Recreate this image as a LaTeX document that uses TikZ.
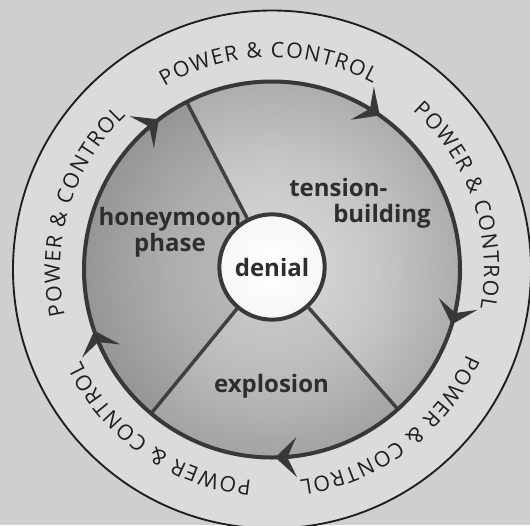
\documentclass[tikz,border=0pt]{standalone}
\usepackage{fontspec}
\setmainfont{Open Sans}
\usetikzlibrary{arrows.meta,decorations.text}

\newcommand{\phasefont}{\fontsize{18}{19.5}\selectfont\bfseries}
\newcommand{\ringfont}{\fontsize{16}{17}\selectfont}

\pgfdeclareradialshading{discshading}{\pgfpoint{0bp}{0bp}}{color(0bp)=(black!14); color(14bp)=(black!22); color(30bp)=(black!37); color(44bp)=(black!52); color(50bp)=(black!60); color(100bp)=(black!60)}
\pgfdeclareradialshading{hubshading}{\pgfpoint{0bp}{0bp}}{color(0bp)=(white); color(30bp)=(black!4); color(50bp)=(black!15); color(100bp)=(black!15)}

\tikzset{every picture/.style={line width=0.75pt}}
\tikzset{
  wheel edge/.style={draw=black!78, line width=3pt},
  spoke/.style={draw=black!75, line width=2.6pt},
  hub/.style={circle, minimum size=79pt, inner sep=0pt, draw=black!78, line width=3pt, shade, shading=hubshading, font=\phasefont, text=black!82},
  phase label/.style={inner sep=0.75pt, font=\phasefont, text=black!82},
  ring arrow/.style={draw=black!78, fill=black!78, line width=2.5pt, -{Stealth[length=16pt,width=30pt,inset=7pt]}},
  ring text/.style={decorate, decoration={text along path, text align={fit to path}, text color=black!88, text={|\ringfont|POWER {\&} CONTROL}}}
}

\begin{document}
\begin{tikzpicture}[x=0.75pt,y=0.75pt,yscale=-1,xscale=1]
%set diagram size
\useasboundingbox (0,0) rectangle (530,525);
%Background
\fill[black!19] (0,0) rectangle (530,525);

\begin{scope}[shift={(272,269.5)},yscale=-1]
%Shape: Circle [outer ring]
\draw[fill=black!14, draw=black!88, line width=1.4pt] (0,0) circle [radius=259];
%Shape: Circle [wheel]
\shade[shading=discshading] (0,0) circle [radius=188];
%Shape: Sector [honeymoon phase]
\fill[black, opacity=0.13] (0,0) -- (230:188) arc [start angle=230, end angle=117, radius=188] -- cycle;
%Shape: Sector [explosion]
\fill[black, opacity=0.05] (0,0) -- (312:188) arc [start angle=312, end angle=230, radius=188] -- cycle;
%Shape: Circle [denial]
\node[hub] (hub) at (0,2.5) {denial};
%Straight Lines
\foreach \a in {117,230,312}
  \draw[spoke] (hub.\a) -- (\a:188);
%Shape: Circle [wheel edge]
\draw[wheel edge] (0,0) circle [radius=188];
%Arrows
\foreach \a [evaluate=\a as \s using \a+9] in {55,-17,-89,-161,-233}
  \draw[ring arrow] (\s:188) arc [start angle=\s, end angle=\a, radius=188];
%Curve Text
\foreach \a [evaluate=\a as \s using \a+29.5, evaluate=\a as \e using \a-29.5] in {91,19,-53,-125,-197}
  \path[ring text] (\s:212) arc [start angle=\s, end angle=\e, radius=212];
\end{scope}

% Text Node
\draw (170,232) node[phase label, align=center] (honeymoon) {honeymoon\\phase};
% Text Node
\draw (360,203) node[phase label, align=left] (tension) {tension-\\\hspace*{33pt}building};
% Text Node
\draw (271.5,392) node[phase label, anchor=base] (explosion) {explosion};
\end{tikzpicture}
\end{document}
